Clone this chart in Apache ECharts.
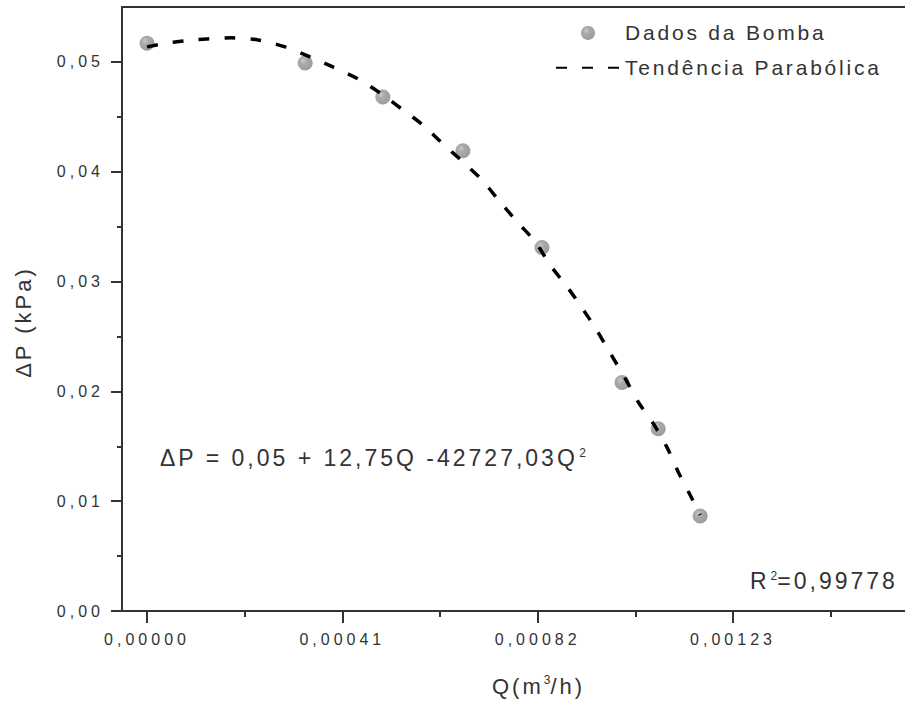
<!DOCTYPE html>
<html><head><meta charset="utf-8">
<script src="https://cdn.jsdelivr.net/npm/echarts@6/dist/echarts.min.js"></script>
<style>
html,body{margin:0;padding:0;background:#fff;}
#chart{width:905px;height:709px;}
#chart text[style*="16px"]{letter-spacing:4px;}
#chart text[style*="21px"]{letter-spacing:2.8px;}
#chart text[style*="22px"]{letter-spacing:3px;}
#chart text[style*="23px"]{letter-spacing:3px;}
</style></head><body><div id="chart"></div>
<script>
// ---- data ----
const qData  = [0, 0.000332, 0.000495, 0.000663, 0.000829, 0.000997, 0.001073, 0.001161];
const dpData = [0.0517, 0.0499, 0.0468, 0.0419, 0.0331, 0.0208, 0.0166, 0.00865];

const trendQ  = [0, 0.0000588, 0.000126, 0.000178, 0.000233, 0.000290, 0.000342, 0.000390, 0.000443, 0.000495,
                 0.000537, 0.000579, 0.000619, 0.000663, 0.000703, 0.000741, 0.000779, 0.000815, 0.000846, 0.000882,
                 0.000913, 0.000941, 0.000972, 0.001003, 0.001031, 0.001062, 0.001092, 0.001115, 0.001140, 0.001161];
const trendDP = [0.05137, 0.05182, 0.05209, 0.05219, 0.05200, 0.05137, 0.05046, 0.04954, 0.04845, 0.04699,
                 0.04563, 0.04426, 0.04262, 0.04090, 0.03925, 0.03725, 0.03534, 0.03361, 0.03151, 0.02951,
                 0.02760, 0.02577, 0.02350, 0.02122, 0.01903, 0.01712, 0.01485, 0.01266, 0.01056, 0.00874];

const xTickValues = [0, 0.00041, 0.00082, 0.00123];
const xTickLabels = ['0,00000', '0,00041', '0,00082', '0,00123'];
const xMinorTicks = [0.000205, 0.000615, 0.001025, 0.001435];
const yTickValues = [0, 0.01, 0.02, 0.03, 0.04, 0.05];
const yTickLabels = ['0,00', '0,01', '0,02', '0,03', '0,04', '0,05'];
const yMinorTicks = [0.005, 0.015, 0.025, 0.035, 0.045];

const seriesNames = ['Dados da Bomba', 'Tendência Parabólica'];
const xAxisTitle = 'Q(m{sup|3}/h)';
const yAxisTitle = 'ΔP (kPa)';
const equationMain = 'ΔP = 0,05 + 12,75Q -42727,03Q';
const equationSup = '2';
const r2Label = 'R';
const r2Sup = '2';
const r2Value = '=0,99778';

const X_MIN = -0.0000525, X_MAX = 0.001591, Y_MIN = 0, Y_MAX = 0.055;

// ---- typography: wide letter spacing of the original ----
const SPACING = {16: 4, 21: 2.8, 22: 3, 23: 3};
function spacingOf(font) {
  const m = /(\d+(?:\.\d+)?)px/.exec(font || '');
  return m ? (SPACING[Math.round(parseFloat(m[1]))] || 0) : 0;
}
const mctx = document.createElement('canvas').getContext('2d');
echarts.setPlatformAPI({
  measureText(text, font) {
    mctx.font = font || '12px sans-serif';
    return { width: mctx.measureText(text).width + spacingOf(font) * String(text).length };
  }
});

const FONT = 'Liberation Sans';
const TXT = '#333';
const AX = '#333';

function lookup(values, labels, v) {
  const i = values.findIndex(t => Math.abs(t - v) < 1e-10);
  return i >= 0 ? labels[i] : '';
}

const chart = echarts.init(document.getElementById('chart'), null, {renderer: 'svg'});

const option = {
  animation: false,
  backgroundColor: '#fff',
  textStyle: {fontFamily: FONT},
  grid: {left: 122, top: 7, right: 0, bottom: 98, containLabel: false},
  legend: {
    orient: 'vertical', left: 550, top: 16, itemWidth: 64, itemHeight: 14, itemGap: 11,
    textStyle: {fontSize: 21, color: TXT, fontFamily: FONT},
    data: [
      {name: seriesNames[0]},
      {name: seriesNames[1], icon: 'inherit', itemStyle: {opacity: 0}}
    ]
  },
  xAxis: [
    {
      type: 'value', position: 'bottom', min: X_MIN, max: X_MAX,
      splitLine: {show: false},
      axisLine: {show: true, onZero: false, lineStyle: {color: AX, width: 2}},
      axisTick: {show: true, customValues: xTickValues, length: 12, lineStyle: {color: AX, width: 2}},
      axisLabel: {customValues: xTickValues, fontSize: 16, color: TXT, margin: 18,
                  formatter: v => lookup(xTickValues, xTickLabels, v)},
      name: xAxisTitle, nameLocation: 'middle', nameGap: 63,
      nameTextStyle: {fontSize: 22, color: TXT, fontFamily: FONT, padding: [0, 0, 0, 50],
        rich: {sup: {fontSize: 12, verticalAlign: 'top', lineHeight: 12}}}
    },
    {
      type: 'value', position: 'bottom', min: X_MIN, max: X_MAX,
      splitLine: {show: false}, axisLine: {show: false, onZero: false},
      axisTick: {show: true, customValues: xMinorTicks, length: 6, lineStyle: {color: AX, width: 2}},
      axisLabel: {show: false}
    },
    {
      type: 'value', position: 'top', min: X_MIN, max: X_MAX,
      splitLine: {show: false},
      axisLine: {show: true, onZero: false, lineStyle: {color: AX, width: 2}},
      axisTick: {show: false}, axisLabel: {show: false}
    }
  ],
  yAxis: [
    {
      type: 'value', position: 'left', min: Y_MIN, max: Y_MAX,
      splitLine: {show: false},
      axisLine: {show: true, onZero: false, lineStyle: {color: AX, width: 2}},
      axisTick: {show: true, customValues: yTickValues, length: 11, lineStyle: {color: AX, width: 2}},
      axisLabel: {customValues: yTickValues, fontSize: 16, color: TXT, margin: 18,
                  formatter: v => lookup(yTickValues, yTickLabels, v)},
      name: yAxisTitle, nameLocation: 'middle', nameRotate: 90, nameGap: 86,
      nameTextStyle: {fontSize: 22, color: TXT, fontFamily: FONT, padding: [0, 26, 0, 0]}
    },
    {
      type: 'value', position: 'left', min: Y_MIN, max: Y_MAX,
      splitLine: {show: false}, axisLine: {show: false, onZero: false},
      axisTick: {show: true, customValues: yMinorTicks, length: 5, lineStyle: {color: AX, width: 2}},
      axisLabel: {show: false}
    }
  ],
  series: [
    {
      name: seriesNames[0], type: 'scatter', xAxisIndex: 0, yAxisIndex: 0,
      symbol: 'circle', symbolSize: 15, z: 2,
      itemStyle: {
        color: {type: 'radial', x: 0.38, y: 0.35, r: 0.65,
                colorStops: [{offset: 0, color: '#bdbdbd'}, {offset: 0.35, color: '#959595'}, {offset: 1, color: '#848484'}]}
      },
      data: qData.map((q, i) => [q, dpData[i]])
    },
    {
      name: seriesNames[1], type: 'line', xAxisIndex: 0, yAxisIndex: 0,
      symbol: 'none', smooth: 0.3, z: 3,
      lineStyle: {color: '#000', width: 3.5, type: [11, 15]},
      itemStyle: {color: '#000'},
      data: trendQ.map((q, i) => [q, trendDP[i]])
    }
  ],
  graphic: [
    {
      type: 'text', left: 160, top: 445, z: 10,
      style: {
        text: '{t|' + equationMain + '}{s|' + equationSup + '}',
        rich: {
          t: {fontSize: 23, lineHeight: 23, fill: TXT, fontFamily: FONT},
          s: {fontSize: 12, lineHeight: 23, verticalAlign: 'top', fill: TXT, fontFamily: FONT, padding: [0, 0, 12, 1]}
        }
      }
    },
    {
      type: 'text', left: 750, top: 568, z: 10,
      style: {
        text: '{t|' + r2Label + '}{s|' + r2Sup + '}{t|' + r2Value + '}',
        rich: {
          t: {fontSize: 23, lineHeight: 23, fill: TXT, fontFamily: FONT},
          s: {fontSize: 12, lineHeight: 23, verticalAlign: 'top', fill: TXT, fontFamily: FONT, padding: [0, 0, 12, 1]}
        }
      }
    }
  ]
};
chart.setOption(option);
</script></body></html>
